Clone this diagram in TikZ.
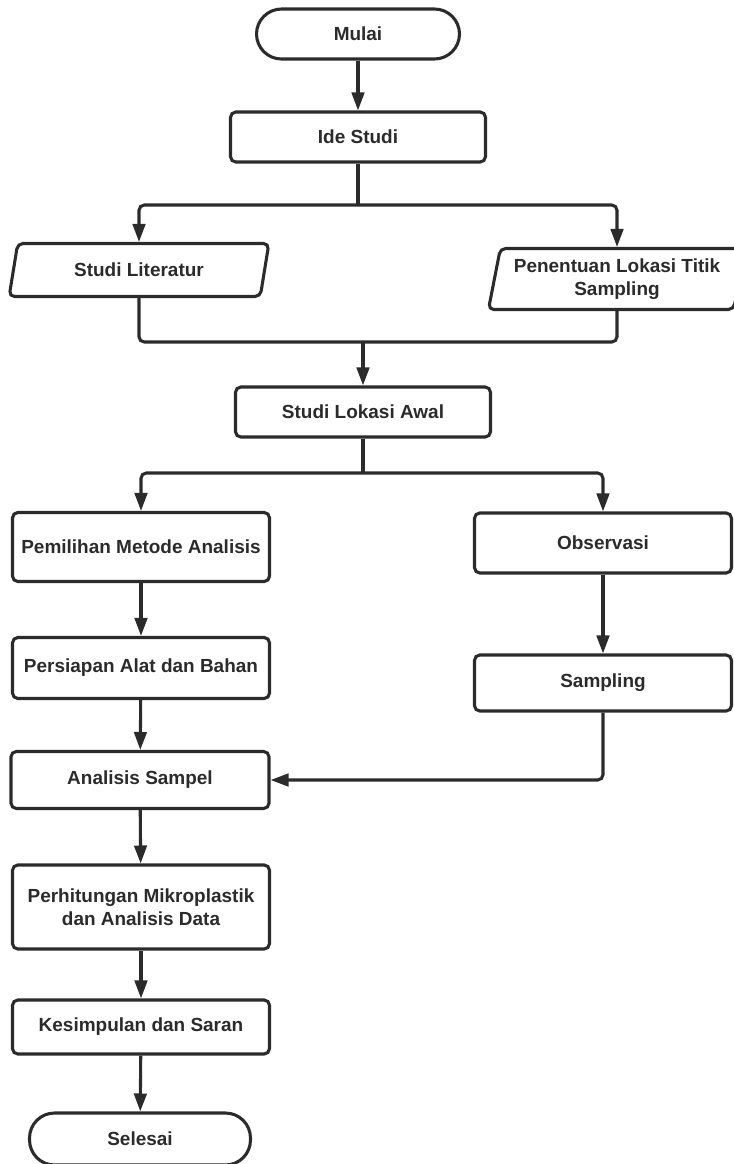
\documentclass[tikz,border=0pt]{standalone}
\usepackage{fontspec}
\setmainfont{Liberation Sans}
\usetikzlibrary{arrows.meta,shapes.geometric}
\definecolor{ink}{HTML}{2B2B2B}
\begin{document}
\begin{tikzpicture}[x=0.02cm,y=-0.02cm,
  every node/.style={font=\fontsize{10.8}{12.8}\selectfont\bfseries,text=ink,align=center},
  box/.style={draw=ink,line width=1.75pt,rounded corners=3pt,inner sep=2pt},
  term/.style={box,rounded corners=0.5cm},
  data/.style={draw=ink,line width=1.75pt,rounded corners=3pt,trapezium,trapezium left angle=77,
    trapezium right angle=103,trapezium stretches=true,inner sep=2pt},
  line/.style={draw=ink,line width=1.75pt,rounded corners=3pt},
  arr/.style={line,-{Triangle[length=0.36cm,width=0.25cm]}}]
\useasboundingbox (0,0) rectangle (734,1164);
\node[term,minimum width=4.06cm,minimum height=1.0cm] (mulai) at (358,34) {Mulai};
\node[box,minimum width=5.1cm,minimum height=1.0cm] (ide) at (358,137) {Ide Studi};
\node[data,minimum width=5.2cm,minimum height=1.06cm] (lit) at (139,270) {Studi Literatur};
\node[data,minimum width=5.15cm,minimum height=1.22cm] (pen) at (617,279) {Penentuan Lokasi Titik\\Sampling};
\node[box,minimum width=5.1cm,minimum height=1.0cm] (awal) at (363,412) {Studi Lokasi Awal};
\node[box,minimum width=5.14cm,minimum height=1.38cm] (metode) at (141,547) {Pemilihan Metode Analisis};
\node[box,minimum width=5.14cm,minimum height=1.2cm] (obs) at (603,543) {Observasi};
\node[box,minimum width=5.14cm,minimum height=1.22cm] (alat) at (141,668) {Persiapan Alat dan Bahan};
\node[box,minimum width=5.14cm,minimum height=1.12cm] (samp) at (603,683) {Sampling};
\node[box,minimum width=5.16cm,minimum height=1.14cm] (anal) at (140,780) {Analisis Sampel};
\node[box,minimum width=5.14cm,minimum height=1.68cm] (hitung) at (141,907) {Perhitungan Mikroplastik\\dan Analisis Data};
\node[box,minimum width=5.14cm,minimum height=1.08cm] (simpul) at (141,1027) {Kesimpulan dan Saran};
\node[term,minimum width=4.42cm,minimum height=1.04cm] (selesai) at (140,1139) {Selesai};
\coordinate (s1) at (358,205);
\coordinate (m1) at (363,342);
\coordinate (s2) at (363,473);
\draw[arr] (mulai) -- (ide);
\draw[line] (ide) -- (s1);
\draw[arr] (s1) -| (lit);
\draw[arr] (s1) -| (pen);
\draw[line] (lit) |- (m1);
\draw[line] (pen) |- (m1);
\draw[arr] (m1) -- (awal);
\draw[line] (awal) -- (s2);
\draw[arr] (s2) -| (metode);
\draw[arr] (s2) -| (obs);
\draw[arr] (metode) -- (alat);
\draw[arr] (obs) -- (samp);
\draw[arr] (alat) -- (anal);
\draw[arr] (samp) |- (anal);
\draw[arr] (anal) -- (hitung);
\draw[arr] (hitung) -- (simpul);
\draw[arr] (simpul) -- (selesai);
\end{tikzpicture}
\end{document}
